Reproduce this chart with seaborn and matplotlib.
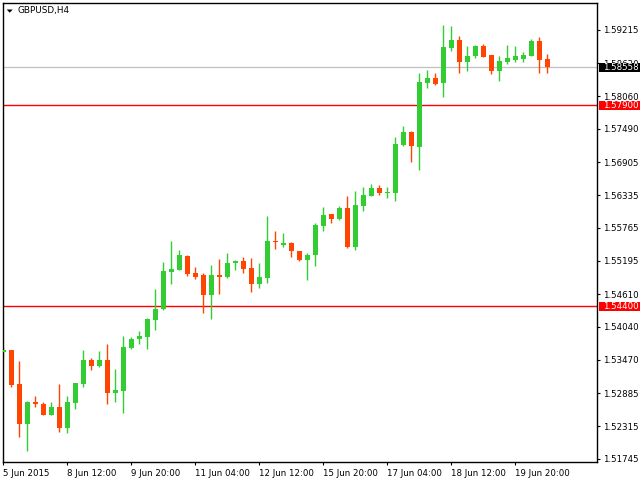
import numpy as np
import pandas as pd
import seaborn as sns
import matplotlib
matplotlib.use("Agg")
import matplotlib.pyplot as plt
from matplotlib.patches import Rectangle, Polygon
from matplotlib.transforms import blended_transform_factory

# ---------------- data (GBPUSD, H4) ----------------
opens = [1.53596, 1.53640, 1.53048, 1.52351, 1.52734, 1.52699, 1.52508, 1.52642, 1.52282, 1.52717,
         1.53048, 1.53465, 1.53366, 1.53465, 1.52896, 1.52931, 1.53680, 1.53831, 1.53866, 1.54167,
         1.54353, 1.54998, 1.55032, 1.55276, 1.54980, 1.54945, 1.54602, 1.54945, 1.54910, 1.55154,
         1.55189, 1.55067, 1.54789, 1.54893, 1.55537, 1.55468, 1.55502, 1.55363, 1.55206, 1.55293,
         1.55798, 1.56007, 1.55920, 1.56112, 1.55433, 1.56147, 1.56321, 1.56460, 1.56378, 1.56373,
         1.57209, 1.57435, 1.57174, 1.58288, 1.58375, 1.58288, 1.58897, 1.59037, 1.58654, 1.58758,
         1.58932, 1.58775, 1.58497, 1.58654, 1.58688, 1.58706, 1.58758, 1.59019, 1.58706]
highs = [1.53700, 1.53640, 1.53448, 1.52752, 1.52839, 1.52734, 1.52734, 1.53048, 1.52839, 1.53065,
         1.53640, 1.53500, 1.53622, 1.53744, 1.53309, 1.53883, 1.53866, 1.53970, 1.54197, 1.54702,
         1.55172, 1.55537, 1.55381, 1.55293, 1.55085, 1.54980, 1.55119, 1.55224, 1.55328, 1.55206,
         1.55259, 1.55241, 1.55154, 1.55972, 1.55711, 1.55677, 1.55520, 1.55363, 1.55328, 1.55851,
         1.56129, 1.56007, 1.56147, 1.56321, 1.56408, 1.56477, 1.56530, 1.56512, 1.56477, 1.57348,
         1.57539, 1.57452, 1.58462, 1.58514, 1.58462, 1.59298, 1.59280, 1.59106, 1.58932, 1.58950,
         1.58967, 1.58775, 1.58758, 1.58950, 1.58932, 1.58828, 1.59054, 1.59089, 1.58793]
lows = [1.53492, 1.53001, 1.52130, 1.51886, 1.52652, 1.52508, 1.52508, 1.52217, 1.52200, 1.52612,
        1.53001, 1.53291, 1.53349, 1.52705, 1.52734, 1.52548, 1.53652, 1.53749, 1.53662, 1.53993,
        1.54336, 1.54794, 1.55032, 1.54933, 1.54881, 1.54289, 1.54184, 1.54620, 1.54893, 1.55032,
        1.54980, 1.54649, 1.54719, 1.54806, 1.55398, 1.55433, 1.55259, 1.55189, 1.54858, 1.55102,
        1.55711, 1.55851, 1.55903, 1.55415, 1.55381, 1.56060, 1.56321, 1.56338, 1.56286, 1.56234,
        1.57191, 1.56913, 1.56773, 1.58201, 1.58253, 1.58044, 1.58845, 1.58462, 1.58497, 1.58723,
        1.58741, 1.58445, 1.58323, 1.58619, 1.58654, 1.58654, 1.58758, 1.58462, 1.58462]
closes = [1.53640, 1.53035, 1.52351, 1.52734, 1.52699, 1.52508, 1.52642, 1.52282, 1.52734, 1.53065,
          1.53465, 1.53366, 1.53465, 1.52896, 1.52943, 1.53692, 1.53831, 1.53883, 1.54179, 1.54353,
          1.55015, 1.55050, 1.55293, 1.54968, 1.54916, 1.54602, 1.54945, 1.54910, 1.55154, 1.55189,
          1.55050, 1.54789, 1.54910, 1.55537, 1.55520, 1.55502, 1.55363, 1.55206, 1.55293, 1.55816,
          1.55990, 1.55920, 1.56112, 1.55433, 1.56164, 1.56338, 1.56460, 1.56373, 1.56396, 1.57226,
          1.57435, 1.57191, 1.58305, 1.58375, 1.58271, 1.58915, 1.59037, 1.58654, 1.58758, 1.58932,
          1.58741, 1.58497, 1.58671, 1.58723, 1.58758, 1.58775, 1.59019, 1.58688, 1.58558]

xtick_labels = ["5 Jun 2015", "8 Jun 12:00", "9 Jun 20:00", "11 Jun 04:00", "12 Jun 12:00",
                "15 Jun 20:00", "17 Jun 04:00", "18 Jun 12:00", "19 Jun 20:00"]
ytick_values = [1.59215, 1.58630, 1.58060, 1.57490, 1.56905, 1.56335, 1.55765,
                1.55195, 1.54610, 1.54040, 1.53470, 1.52885, 1.52315, 1.51745]
level_lines = [1.57900, 1.54400]
bid_price = 1.58558
title = "GBPUSD,H4"

# ---------------- styling ----------------
sns.set_theme(style="ticks")
plt.rcParams["font.family"] = ["DejaVu Sans"]

BULL = "#32CD32"
BEAR = "#FF4500"

df = pd.DataFrame({"open": opens, "high": highs, "low": lows, "close": closes})
df["idx"] = np.arange(len(df))
df["bull"] = df["close"] >= df["open"]
df["color"] = np.where(df["bull"], BULL, BEAR)
df["bottom"] = df[["open", "close"]].min(axis=1)
df["height"] = (df["close"] - df["open"]).abs().clip(lower=0.00016)

W, H = 640, 480
fig = plt.figure(figsize=(6.4, 4.8), dpi=100)
fig.patch.set_facecolor("white")
ax = fig.add_axes([2.7 / W, 1 - 461.7 / H, (597.3 - 2.7) / W, (461.7 - 2.7) / H])
ax.set_facecolor("white")

# level lines
ax.axhline(bid_price, color="#C0C0C0", lw=0.9, zorder=1)
for lv in level_lines:
    ax.axhline(lv, color="#FF0000", lw=1.0, zorder=1)

# wicks + bodies
ax.vlines(df["idx"], df["low"], df["high"], colors=df["color"], lw=1.0, zorder=2)
ax.bar(df["idx"], df["height"], bottom=df["bottom"], width=0.62, color=df["color"],
       linewidth=0, zorder=3)

ax.set_xlim((2.7 - 3.3) / 8, (597.3 - 3.3) / 8)
ax.set_ylim(1.59733 - 0.0001741 * 461.7, 1.59733 - 0.0001741 * 2.7)

# y axis on the right
ax.yaxis.tick_right()
ax.set_yticks(ytick_values)
ax.set_yticklabels([f"{v:.5f}" for v in ytick_values])
ax.tick_params(axis="y", direction="out", length=2.2, width=0.8, pad=2.0,
               labelsize=6.2, colors="black", right=True, left=False)

# x axis
ax.set_xticks(np.arange(len(xtick_labels)) * 8)
ax.set_xticklabels(xtick_labels)
ax.tick_params(axis="x", direction="out", length=2.5, width=0.8, pad=2.5,
               labelsize=6.2, colors="black", bottom=True)
for lab in ax.get_xticklabels():
    lab.set_horizontalalignment("left")

for s in ax.spines.values():
    s.set_visible(True)
    s.set_color("black")
    s.set_linewidth(1.0)
ax.set_xlabel("")
ax.set_ylabel("")

# price tags on the right
trans = blended_transform_factory(fig.transFigure, ax.transData)
box_h = 0.00165
def price_tag(price, face):
    ax.add_patch(Rectangle((598.5 / W, price - box_h / 2), 1 - 598.5 / W, box_h,
                           transform=trans, facecolor=face, edgecolor="none",
                           clip_on=False, zorder=10))
    ax.text(603.5 / W, price, f"{price:.5f}", transform=trans, color="white",
            fontsize=6.2, va="center", ha="left", clip_on=False, zorder=11)

price_tag(bid_price, "black")
for lv in level_lines:
    price_tag(lv, "#FF0000")

# title with little triangle
fig.patches.append(Polygon([(6.7 / W, 1 - 9.5 / H), (12.7 / W, 1 - 9.5 / H), (9.7 / W, 1 - 12.7 / H)],
                           closed=True, transform=fig.transFigure, facecolor="black",
                           edgecolor="none"))
fig.text(18 / W, 1 - 11 / H, title, fontsize=6.4, color="black", va="center", ha="left")

fig.savefig("out.png", dpi=100, facecolor="white")
